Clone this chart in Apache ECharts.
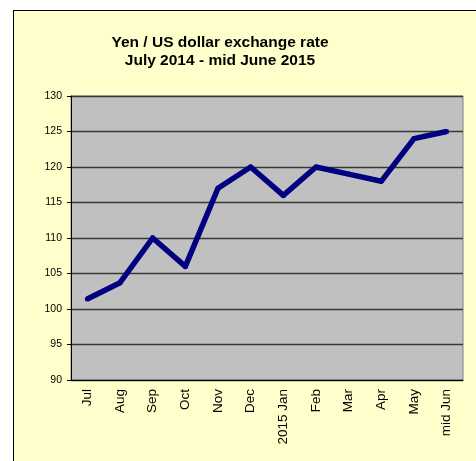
<!DOCTYPE html>
<html lang="en">
<head>
    <meta charset="UTF-8">
    <title>Yen / US dollar</title>
    <script src="https://cdnjs.cloudflare.com/ajax/libs/echarts/6.0.0/echarts.min.js"></script>
    <style>
        body{margin:0;background:#fff;}
        #box{position:absolute;left:13px;top:10px;right:0;bottom:0;background:#ffffcc;border-left:1px solid #000;border-top:1px solid #000;}
        #myChart{position:absolute;left:0;top:0;width:476px;height:461px;}
    </style>
</head>
<body>
<div id="box"></div>
<div id="myChart"></div>
<script>
    const months=['Jul','Aug','Sep','Oct','Nov','Dec','2015 Jan','Feb','Mar','Apr','May','mid Jun'];
    const yenRate=[101.4,103.7,110,106,117,120,116,120,119,118,124,125];
    const yMin=90, yMax=130, yStep=5;

    const option={
        animation:false,
        textStyle:{fontFamily:'Liberation Sans, Arial, sans-serif'},
        title:{
            text:'Yen / US dollar exchange rate\nJuly 2014 - mid June 2015',
            left:215,
            top:29,
            textAlign:'center',
            textStyle:{fontSize:15.5,fontWeight:'bold',color:'#000',lineHeight:18}
        },
        grid:{
            left:71, top:96, right:13, bottom:81,
            show:true,
            backgroundColor:'#c0c0c0',
            borderColor:'#808080',
            borderWidth:1
        },
        xAxis:{
            type:'category',
            data:months,
            axisLine:{lineStyle:{color:'#000',width:1}},
            axisTick:{length:4,lineStyle:{color:'#000'}},
            axisLabel:{rotate:90,interval:0,fontSize:13.5,color:'#000',margin:9}
        },
        yAxis:{
            type:'value',
            min:yMin,
            max:yMax,
            interval:yStep,
            axisLine:{show:true,lineStyle:{color:'#000',width:1}},
            axisTick:{show:true,length:4,lineStyle:{color:'#000'}},
            axisLabel:{fontSize:10.5,color:'#000',margin:9},
            splitLine:{lineStyle:{color:'#383838',width:1.3}}
        },
        series:[{
            type:'line',
            data:yenRate,
            symbol:'circle',
            symbolSize:5,
            showSymbol:true,
            lineStyle:{color:'#000080',width:5.5,join:'round'},
            itemStyle:{color:'#000080'}
        }]
    };
    const myChart=echarts.init(document.getElementById('myChart'));
    myChart.setOption(option);
</script>
</body>
</html>
